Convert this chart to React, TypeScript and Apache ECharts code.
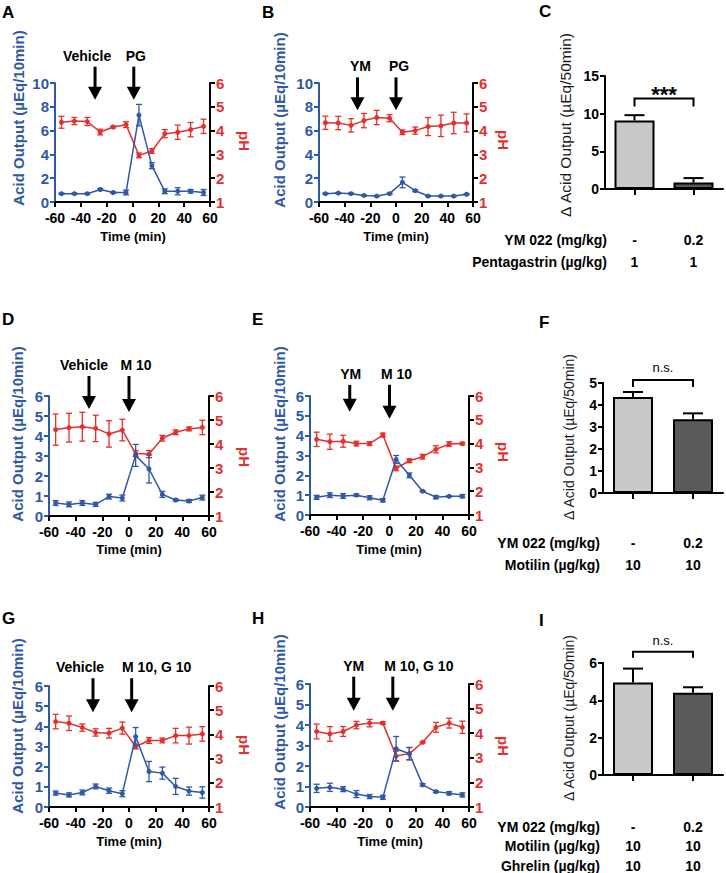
import React, { useEffect, useRef } from 'react';
import * as echarts from 'echarts';

const FONT = '"Liberation Sans", Arial, Helvetica, sans-serif';
const BLUE = '#2f58a6';
const RED = '#e3302c';
const BAR_COLORS = ['#c9c9c9', '#5a5a5a'];

// ---------- data ----------
const TIME = [-55, -45, -35, -25, -15, -5, 5, 15, 25, 35, 45, 55];
const X_TICKS = [-60, -40, -20, 0, 20, 40, 60];
const ACID_TICKS_10 = [0, 2, 4, 6, 8, 10];
const ACID_TICKS_6 = [0, 1, 2, 3, 4, 5, 6];
const PH_TICKS = [1, 2, 3, 4, 5, 6];

const A_ACID = [0.7, 0.7, 0.7, 1.05, 0.8, 0.8, 7.3, 3.05, 0.9, 0.9, 0.9, 0.8];
const A_ACID_SEM = [0.05, 0.05, 0.05, 0.08, 0.06, 0.2, 0.9, 0.25, 0.2, 0.3, 0.15, 0.25];
const A_PH = [4.35, 4.4, 4.38, 3.94, 4.15, 4.25, 2.96, 3.14, 3.87, 3.93, 4.04, 4.18];
const A_PH_SEM = [0.25, 0.15, 0.17, 0.12, 0.04, 0.12, 0.1, 0.1, 0.17, 0.3, 0.3, 0.3];
const A_EVENTS = ['Vehicle', 'PG'];
const A_EVENT_T = [-29, 1];

const B_ACID = [0.7, 0.75, 0.7, 0.55, 0.5, 0.7, 1.65, 0.95, 0.5, 0.5, 0.5, 0.65];
const B_ACID_SEM = [0.05, 0.05, 0.05, 0.05, 0.05, 0.05, 0.45, 0.08, 0.05, 0.05, 0.05, 0.05];
const B_PH = [4.33, 4.32, 4.22, 4.42, 4.55, 4.52, 3.93, 4.0, 4.17, 4.2, 4.32, 4.32];
const B_PH_SEM = [0.28, 0.28, 0.28, 0.3, 0.3, 0.15, 0.1, 0.15, 0.38, 0.45, 0.45, 0.38];
const B_EVENTS = ['YM', 'PG'];
const B_EVENT_T = [-30, 0];

const D_ACID = [0.65, 0.58, 0.65, 0.58, 0.97, 0.9, 3.03, 2.35, 1.08, 0.8, 0.75, 0.92];
const D_ACID_SEM = [0.12, 0.12, 0.12, 0.1, 0.12, 0.15, 0.55, 0.7, 0.15, 0.05, 0.07, 0.12];
const D_PH = [4.6, 4.68, 4.72, 4.65, 4.42, 4.58, 3.6, 3.58, 4.24, 4.49, 4.63, 4.69];
const D_PH_SEM = [0.65, 0.6, 0.6, 0.55, 0.55, 0.45, 0.12, 0.15, 0.12, 0.1, 0.08, 0.3];
const D_EVENTS = ['Vehicle', 'M 10'];
const D_EVENT_T = [-30, 0];

const E_ACID = [0.89, 1.0, 0.96, 1.0, 0.87, 0.74, 2.8, 2.0, 1.2, 0.9, 0.94, 0.95];
const E_ACID_SEM = [0.1, 0.12, 0.12, 0.06, 0.1, 0.08, 0.2, 0.12, 0.03, 0.08, 0.03, 0.08];
const E_PH = [4.18, 4.08, 4.1, 4.0, 4.0, 4.36, 2.96, 3.28, 3.45, 3.76, 3.98, 4.0];
const E_PH_SEM = [0.3, 0.32, 0.25, 0.1, 0.08, 0.08, 0.1, 0.08, 0.1, 0.15, 0.1, 0.05];
const E_EVENTS = ['YM', 'M 10'];
const E_EVENT_T = [-30, 0];

const G_ACID = [0.69, 0.6, 0.72, 1.02, 0.81, 0.66, 3.49, 1.76, 1.68, 1.02, 0.79, 0.72];
const G_ACID_SEM = [0.1, 0.1, 0.12, 0.12, 0.13, 0.15, 0.45, 0.5, 0.3, 0.4, 0.2, 0.28];
const G_PH = [4.53, 4.46, 4.28, 4.08, 4.05, 4.26, 3.5, 3.75, 3.75, 3.95, 3.95, 4.02];
const G_PH_SEM = [0.3, 0.3, 0.15, 0.15, 0.2, 0.25, 0.1, 0.12, 0.1, 0.3, 0.35, 0.3];
const G_EVENTS = ['Vehicle', 'M 10, G 10'];
const G_EVENT_T = [-27, 2];

const H_ACID = [0.91, 0.96, 0.87, 0.63, 0.51, 0.47, 2.84, 2.6, 1.08, 0.75, 0.67, 0.59];
const H_ACID_SEM = [0.2, 0.2, 0.12, 0.17, 0.1, 0.1, 0.6, 0.3, 0.06, 0.05, 0.08, 0.1];
const H_PH = [4.07, 3.97, 4.07, 4.33, 4.41, 4.41, 3.07, 3.17, 3.63, 4.24, 4.41, 4.24];
const H_PH_SEM = [0.3, 0.3, 0.2, 0.15, 0.15, 0.05, 0.2, 0.25, 0.03, 0.2, 0.2, 0.25];
const H_EVENTS = ['YM', 'M 10, G 10'];
const H_EVENT_T = [-27, 2.5];

const BAR_GROUPS = ['Control', 'YM 022'];
const C_MEANS = [9.1, 0.85];
const C_SEM = [0.7, 0.6];
const C_TICKS = [0, 5, 10, 15];
const C_SIG = '***';
const C_ROWS = ['YM 022 (mg/kg)', 'Pentagastrin (µg/kg)'];
const C_ROW_VALUES = [['-', '0.2'], ['1', '1']];

const F_MEANS = [4.36, 3.35];
const F_SEM = [0.23, 0.27];
const F_TICKS = [0, 1, 2, 3, 4, 5];
const F_SIG = 'n.s.';
const F_ROWS = ['YM 022 (mg/kg)', 'Motilin (µg/kg)'];
const F_ROW_VALUES = [['-', '0.2'], ['10', '10']];

const I_MEANS = [4.95, 4.4];
const I_SEM = [0.75, 0.3];
const I_TICKS = [0, 2, 4, 6];
const I_SIG = 'n.s.';
const I_ROWS = ['YM 022 (mg/kg)', 'Motilin (µg/kg)', 'Ghrelin (µg/kg)'];
const I_ROW_VALUES = [['-', '0.2'], ['10', '10'], ['10', '10']];

// ---------- layout ----------
const LINE_PANELS = [
  {
    letter: 'A', acid: A_ACID, acidErr: A_ACID_SEM, ph: A_PH, phErr: A_PH_SEM, acidTicks: ACID_TICKS_10,
    events: A_EVENTS, eventT: A_EVENT_T,
    grid: { left: 55, top: 83, width: 155, height: 119 },
    letterPos: [2, 12], yTitle: [18, 118], phTitle: [244, 141], xTitle: [133, 236],
    arrows: [{ tip: 8.6, len: 33, dx: -8 }, { tip: 8.6, len: 33, dx: 2 }],
  },
  {
    letter: 'B', acid: B_ACID, acidErr: B_ACID_SEM, ph: B_PH, phErr: B_PH_SEM, acidTicks: ACID_TICKS_10,
    events: B_EVENTS, eventT: B_EVENT_T,
    grid: { left: 319, top: 83, width: 154, height: 119 },
    letterPos: [262, 12], yTitle: [279, 120], phTitle: [503, 140], xTitle: [396, 236],
    arrows: [{ tip: 7.7, len: 33, dx: 3 }, { tip: 7.7, len: 33, dx: 3 }],
  },
  {
    letter: 'D', acid: D_ACID, acidErr: D_ACID_SEM, ph: D_PH, phErr: D_PH_SEM, acidTicks: ACID_TICKS_6,
    events: D_EVENTS, eventT: D_EVENT_T,
    grid: { left: 49, top: 396, width: 160, height: 120 },
    letterPos: [2, 319], yTitle: [17, 434], phTitle: [244, 457], xTitle: [129, 549],
    arrows: [{ tip: 5.35, len: 33, dx: -5 }, { tip: 5.2, len: 36, dx: 7 }],
  },
  {
    letter: 'E', acid: E_ACID, acidErr: E_ACID_SEM, ph: E_PH, phErr: E_PH_SEM, acidTicks: ACID_TICKS_6,
    events: E_EVENTS, eventT: E_EVENT_T,
    grid: { left: 310, top: 396, width: 159, height: 119 },
    letterPos: [252, 319], yTitle: [279, 434], phTitle: [503, 452], xTitle: [389, 549],
    arrows: [{ tip: 5.2, len: 27, dx: 1 }, { tip: 4.85, len: 34, dx: 7 }],
  },
  {
    letter: 'G', acid: G_ACID, acidErr: G_ACID_SEM, ph: G_PH, phErr: G_PH_SEM, acidTicks: ACID_TICKS_6,
    events: G_EVENTS, eventT: G_EVENT_T,
    grid: { left: 49, top: 686, width: 160, height: 121 },
    letterPos: [2, 618], yTitle: [17, 726], phTitle: [244, 745], xTitle: [129, 841],
    arrows: [{ tip: 4.7, len: 34, dx: -13 }, { tip: 4.7, len: 34, dx: 25 }],
  },
  {
    letter: 'H', acid: H_ACID, acidErr: H_ACID_SEM, ph: H_PH, phErr: H_PH_SEM, acidTicks: ACID_TICKS_6,
    events: H_EVENTS, eventT: H_EVENT_T,
    grid: { left: 310, top: 684, width: 159, height: 123 },
    letterPos: [252, 618], yTitle: [279, 722], phTitle: [503, 746], xTitle: [390, 841],
    arrows: [{ tip: 4.7, len: 34, dx: 0 }, { tip: 4.7, len: 34, dx: 26 }],
  },
];

const BAR_PANELS = [
  {
    letter: 'C', means: C_MEANS, sem: C_SEM, ticks: C_TICKS, sig: C_SIG, rows: C_ROWS, rowValues: C_ROW_VALUES,
    grid: { left: 605, top: 76, width: 118, height: 113 },
    letterPos: [539, 11], yTitle: [565, 125], yTitleSize: 15.5,
    bracketLevel: 12, bracketDrop: 8, sigGap: 4, sigBold: true, sigSize: 22,
    rowRight: 607, rowY: [240, 262],
  },
  {
    letter: 'F', means: F_MEANS, sem: F_SEM, ticks: F_TICKS, sig: F_SIG, rows: F_ROWS, rowValues: F_ROW_VALUES,
    grid: { left: 603, top: 383, width: 120, height: 110 },
    letterPos: [539, 322], yTitle: [569, 437], yTitleSize: 14,
    bracketLevel: 5.14, bracketDrop: 7, sigGap: 12, sigBold: false, sigSize: 13,
    rowRight: 600, rowY: [543, 565],
  },
  {
    letter: 'I', means: I_MEANS, sem: I_SEM, ticks: I_TICKS, sig: I_SIG, rows: I_ROWS, rowValues: I_ROW_VALUES,
    grid: { left: 603, top: 663, width: 120, height: 112 },
    letterPos: [539, 620], yTitle: [569, 718], yTitleSize: 14,
    bracketLevel: 6.6, bracketDrop: 6, sigGap: 11, sigBold: false, sigSize: 13,
    rowRight: 600, rowY: [827, 846, 866],
  },
];

// ---------- helpers ----------
const range = (t: number[]) => ({ min: t[0], max: t[t.length - 1], interval: t[1] - t[0] });

const txt = (x: number, y: number, text: string, o: any = {}) => ({
  type: 'text',
  x,
  y,
  rotation: o.rot || 0,
  silent: true,
  style: {
    text,
    fill: o.color || '#000',
    fontSize: o.size || 14,
    fontWeight: o.weight || 'bold',
    fontFamily: FONT,
    align: o.align || 'center',
    verticalAlign: 'middle',
  },
});

const errRender = (color: string, cap: number, lw: number) => (params: any, api: any) => {
  const x = api.value(0);
  const y = api.value(1);
  const e = api.value(2);
  const top = api.coord([x, y + e]);
  const bot = api.coord([x, y - e]);
  const st = { stroke: color, lineWidth: lw };
  return {
    type: 'group',
    children: [
      { type: 'line', shape: { x1: top[0], y1: top[1], x2: bot[0], y2: bot[1] }, style: st },
      { type: 'line', shape: { x1: top[0] - cap, y1: top[1], x2: top[0] + cap, y2: top[1] }, style: st },
      { type: 'line', shape: { x1: bot[0] - cap, y1: bot[1], x2: bot[0] + cap, y2: bot[1] }, style: st },
    ],
  };
};

const barErrRender = (params: any, api: any) => {
  const x = api.value(0);
  const y = api.value(1);
  const e = api.value(2);
  const top = api.coord([x, y + e]);
  const base = api.coord([x, y]);
  const st = { stroke: '#000', lineWidth: 2 };
  return {
    type: 'group',
    children: [
      { type: 'line', shape: { x1: top[0], y1: top[1], x2: base[0], y2: base[1] }, style: st },
      { type: 'line', shape: { x1: top[0] - 10, y1: top[1], x2: top[0] + 10, y2: top[1] }, style: st },
    ],
  };
};

const arrowRender = (labels: string[], arrows: any[]) => (params: any, api: any) => {
  const a = arrows[params.dataIndex];
  const p = api.coord([api.value(0), api.value(1)]);
  const x = p[0];
  const tip = p[1];
  const top = tip - a.len;
  const hl = 13;
  const hw = 7;
  return {
    type: 'group',
    children: [
      { type: 'line', shape: { x1: x, y1: top, x2: x, y2: tip - hl + 2 }, style: { stroke: '#000', lineWidth: 3 } },
      { type: 'polygon', shape: { points: [[x - hw, tip - hl], [x + hw, tip - hl], [x, tip]] }, style: { fill: '#000' } },
      {
        type: 'text', x: x + a.dx, y: top - 11,
        style: { text: labels[params.dataIndex], fill: '#000', fontSize: 14, fontWeight: 'bold', fontFamily: FONT, align: 'center', verticalAlign: 'middle' },
      },
    ],
  };
};

const bracketRender = (b: any) => (params: any, api: any) => {
  const lvl = api.value(1);
  const p0 = api.coord([0, lvl]);
  const p1 = api.coord([1, lvl]);
  return {
    type: 'group',
    children: [
      {
        type: 'polyline',
        shape: { points: [[p0[0], p0[1] + b.bracketDrop], [p0[0], p0[1]], [p1[0], p1[1]], [p1[0], p1[1] + b.bracketDrop]] },
        style: { stroke: '#000', lineWidth: 2, fill: 'none' },
      },
      {
        type: 'text', x: (p0[0] + p1[0]) / 2, y: p0[1] - b.sigGap,
        style: { text: b.sig, fill: '#000', fontSize: b.sigSize, fontWeight: b.sigBold ? 'bold' : 'normal', fontFamily: FONT, align: 'center', verticalAlign: 'middle' },
      },
    ],
  };
};

function buildOption() {
  const grid: any[] = [];
  const xAxis: any[] = [];
  const yAxis: any[] = [];
  const series: any[] = [];
  const graphic: any[] = [];

  LINE_PANELS.forEach((p) => {
    const gi = grid.length;
    grid.push({ ...p.grid, containLabel: false });
    const xi = xAxis.length;
    xAxis.push({
      gridIndex: gi, type: 'value', ...range(X_TICKS),
      axisLine: { show: true, onZero: false, lineStyle: { color: '#000', width: 2 } },
      axisTick: { show: true, length: 5, lineStyle: { color: '#000', width: 2 } },
      axisLabel: { color: '#000', fontSize: 14, fontWeight: 'bold', fontFamily: FONT, margin: 9, showMinLabel: true, showMaxLabel: true },
      splitLine: { show: false },
    });
    const yl = yAxis.length;
    yAxis.push({
      gridIndex: gi, type: 'value', position: 'left', ...range(p.acidTicks),
      axisLine: { show: true, onZero: false, lineStyle: { color: BLUE, width: 2 } },
      axisTick: { show: true, length: 5, lineStyle: { color: BLUE, width: 2 } },
      axisLabel: { color: BLUE, fontSize: 15, fontWeight: 'bold', fontFamily: FONT, margin: 6 },
      splitLine: { show: false },
    });
    yAxis.push({
      gridIndex: gi, type: 'value', position: 'right', ...range(PH_TICKS),
      axisLine: { show: true, onZero: false, lineStyle: { color: '#000', width: 2 } },
      axisTick: { show: true, length: 5, lineStyle: { color: '#000', width: 2 } },
      axisLabel: { color: RED, fontSize: 15, fontWeight: 'bold', fontFamily: FONT, margin: 6 },
      splitLine: { show: false },
    });

    series.push({
      type: 'custom', xAxisIndex: xi, yAxisIndex: yl + 1, silent: true, z: 2,
      data: TIME.map((t, i) => [t, p.ph[i], p.phErr[i]]), encode: { x: 0, y: 1 },
      renderItem: errRender(RED, 3, 1.3),
    });
    series.push({
      type: 'line', xAxisIndex: xi, yAxisIndex: yl + 1, silent: true, z: 3,
      data: TIME.map((t, i) => [t, p.ph[i]]),
      symbol: 'circle', symbolSize: 5, showAllSymbol: true,
      lineStyle: { color: RED, width: 1.5 }, itemStyle: { color: RED },
    });
    series.push({
      type: 'custom', xAxisIndex: xi, yAxisIndex: yl, silent: true, z: 4,
      data: TIME.map((t, i) => [t, p.acid[i], p.acidErr[i]]), encode: { x: 0, y: 1 },
      renderItem: errRender(BLUE, 3, 1.3),
    });
    series.push({
      type: 'line', xAxisIndex: xi, yAxisIndex: yl, silent: true, z: 5,
      data: TIME.map((t, i) => [t, p.acid[i]]),
      symbol: 'circle', symbolSize: 5, showAllSymbol: true,
      lineStyle: { color: BLUE, width: 1.5 }, itemStyle: { color: BLUE },
    });
    series.push({
      type: 'custom', xAxisIndex: xi, yAxisIndex: yl, silent: true, z: 6, clip: false,
      data: p.eventT.map((t, i) => [t, p.arrows[i].tip]), encode: { x: 0, y: 1 },
      renderItem: arrowRender(p.events, p.arrows),
    });

    graphic.push(txt(p.letterPos[0], p.letterPos[1], p.letter, { size: 17, align: 'left' }));
    graphic.push(txt(p.yTitle[0], p.yTitle[1], 'Acid Output (µEq/10min)', { size: 15, color: BLUE, rot: Math.PI / 2 }));
    graphic.push(txt(p.phTitle[0], p.phTitle[1], 'pH', { size: 15, color: RED, rot: -Math.PI / 2 }));
    graphic.push(txt(p.xTitle[0], p.xTitle[1], 'Time (min)', { size: 13 }));
  });

  BAR_PANELS.forEach((p) => {
    const gi = grid.length;
    grid.push({ ...p.grid, containLabel: false });
    const xi = xAxis.length;
    xAxis.push({
      gridIndex: gi, type: 'category', data: BAR_GROUPS,
      axisLine: { show: true, lineStyle: { color: '#000', width: 2 } },
      axisTick: { show: true, alignWithLabel: true, length: 6, lineStyle: { color: '#000', width: 2 } },
      axisLabel: { show: false },
      splitLine: { show: false },
    });
    const yi = yAxis.length;
    yAxis.push({
      gridIndex: gi, type: 'value', ...range(p.ticks),
      axisLine: { show: true, lineStyle: { color: '#000', width: 2 } },
      axisTick: { show: true, length: 5, lineStyle: { color: '#000', width: 2 } },
      axisLabel: { color: '#000', fontSize: 14, fontWeight: 'bold', fontFamily: FONT, margin: 6 },
      splitLine: { show: false },
    });
    series.push({
      type: 'bar', xAxisIndex: xi, yAxisIndex: yi, silent: true, z: 2, barWidth: 40,
      data: p.means.map((v, i) => ({ value: v, itemStyle: { color: BAR_COLORS[i], borderColor: '#000', borderWidth: 2 } })),
    });
    series.push({
      type: 'custom', xAxisIndex: xi, yAxisIndex: yi, silent: true, z: 3,
      data: p.means.map((v, i) => [i, v, p.sem[i]]), encode: { x: 0, y: 1 },
      renderItem: barErrRender,
    });
    series.push({
      type: 'custom', xAxisIndex: xi, yAxisIndex: yi, silent: true, z: 4, clip: false,
      data: [[0, p.bracketLevel]], encode: { x: 0, y: 1 },
      renderItem: bracketRender(p),
    });

    graphic.push(txt(p.letterPos[0], p.letterPos[1], p.letter, { size: 17, align: 'left' }));
    graphic.push(txt(p.yTitle[0], p.yTitle[1], 'Δ Acid Output (µEq/50min)', { size: p.yTitleSize, weight: 'normal', color: '#1a1a1a', rot: Math.PI / 2 }));
    const cw = p.grid.width / 2;
    p.rows.forEach((label, r) => {
      graphic.push(txt(p.rowRight, p.rowY[r], label, { size: 14, align: 'right' }));
      p.rowValues[r].forEach((v, c) => {
        graphic.push(txt(p.grid.left + cw * (c + 0.5), p.rowY[r], v, { size: 14 }));
      });
    });
  });

  return { animation: false, backgroundColor: '#ffffff', grid, xAxis, yAxis, series, graphic };
}

export default function App() {
  const ref = useRef<HTMLDivElement>(null);
  useEffect(() => {
    const chart = echarts.init(ref.current as HTMLDivElement, null, { renderer: 'svg', width: 726, height: 873 });
    chart.setOption(buildOption() as any);
    return () => chart.dispose();
  }, []);
  return (
    <div
      ref={ref}
      style={{ position: 'absolute', left: 0, top: 0, width: 726, height: 873, background: '#fff' }}
    />
  );
}
